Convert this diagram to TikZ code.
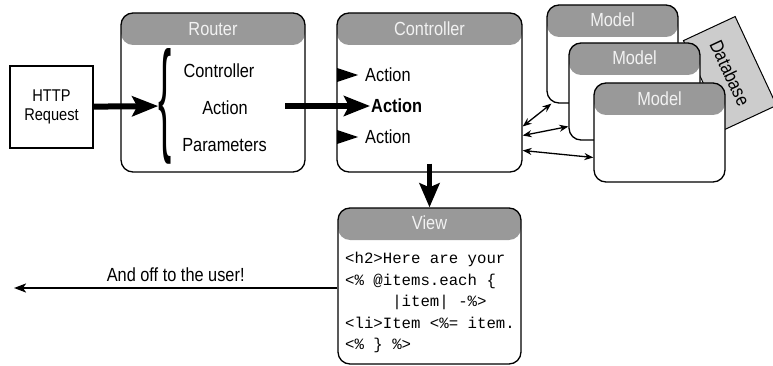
\documentclass[tikz,border=0pt]{standalone}
\usepackage{fontspec}
\setmainfont{Liberation Sans}[FakeStretch=0.86]
\setmonofont{Liberation Mono}
\usetikzlibrary{arrows.meta}
\definecolor{headgray}{HTML}{999999}
\definecolor{dbgray}{HTML}{CCCCCC}
\definecolor{headtext}{HTML}{F2F2F2}
\tikzset{
  txt/.style={font=\fontsize{19}{22}\selectfont, inner sep=1pt},
  boldtxt/.style={font=\fontsize{19}{22}\selectfont\bfseries, inner sep=1pt},
  panel/.style={draw, line width=1.3pt, rounded corners=12pt, fill=white, inner sep=0pt,
    path picture={\fill[headgray] (path picture bounding box.north west)
      rectangle ([yshift=-32pt]path picture bounding box.north east);}},
  headtitle/.style={txt, text=headtext},
  bigarrow/.style={line width=6pt, -{Stealth[length=26pt,width=20pt,inset=5pt]}},
  downarrow/.style={line width=5pt, -{Stealth[length=24pt,width=20pt,inset=4pt]}},
  twoway/.style={line width=1.3pt, {Stealth[length=9pt,width=7pt]}-{Stealth[length=9pt,width=7pt]}},
  userarrow/.style={line width=2pt, -{Stealth[length=12pt,width=9pt,inset=3pt]}},
}
\begin{document}
\begin{tikzpicture}[x=1pt,y=-1pt]
\useasboundingbox (0,0) rectangle (773,366);
\node[draw, line width=1.3pt, minimum width=83pt, minimum height=82pt, align=center,
  font=\fontsize{17}{19}\selectfont] (http) at (51.5,107) {HTTP\\Request};
\node[panel, minimum width=184pt, minimum height=159pt] (router) at (213,92.5) {};
\node[headtitle] (routert) at (213,29) {Router};
\node[txt] (rctrl) at (219,71) {Controller};
\node[txt] (ract) at (225,108) {Action};
\node[txt] (rparam) at (224.5,145) {Parameters};
\node[inner sep=0pt] (brace) at (165,106) {\scalebox{1}[2.7]{\fontsize{46}{46}\selectfont\{}};
\node[panel, minimum width=185pt, minimum height=159pt] (ctrl) at (429.5,92.5) {};
\node[headtitle] (ctrlt) at (429.5,29) {Controller};
\node[txt, anchor=west] (act1) at (364,75) {Action};
\node[boldtxt, anchor=west] (act2) at (370,106) {Action};
\node[txt, anchor=west] (act3) at (364,137) {Action};
\fill (337,68) -- (358,75) -- (337,82) -- cycle;
\fill (337,130) -- (358,137) -- (337,144) -- cycle;
\node[draw, line width=1pt, fill=dbgray, rotate=-65, minimum width=98pt, minimum height=57pt, txt] (db) at (730,73) {Database};
\node[panel, minimum width=131pt, minimum height=98pt] (model1) at (612.5,54) {};
\node[headtitle] (model1t) at (612.5,20) {Model};
\node[panel, minimum width=131pt, minimum height=97pt] (model2) at (634.5,91.5) {};
\node[headtitle] (model2t) at (634.5,58) {Model};
\node[panel, minimum width=131pt, minimum height=99pt] (model3) at (659.5,132.5) {};
\node[headtitle] (model3t) at (659.5,99) {Model};
\node[panel, minimum width=183pt, minimum height=156pt] (view) at (429.5,286) {};
\node[headtitle] (viewt) at (429.5,223) {View};
\node[anchor=north west, align=left, inner sep=0pt,
  font=\ttfamily\fontsize{15.7}{21.5}\selectfont] (code) at (345,252) {<h2>Here are your\\
<\% @items.each \{\\
\phantom{00000}|item| -\%>\\
<li>Item <\%= item.\\
<\% \} \%>};
\coordinate (rout) at (285,106);
\coordinate (user) at (14,288);
\draw[bigarrow] (http) -- (brace);
\draw[bigarrow] (rout) -- (act2.west);
\draw[downarrow] ([yshift=9pt]ctrl.south) -- (view.north);
\draw[twoway] ([yshift=-34pt]ctrl.east) -- ([xshift=5pt]model1.south west);
\draw[twoway] ([yshift=-43pt]ctrl.east) -- ([yshift=-35pt]model2.west);
\draw[twoway] ([yshift=-58pt]ctrl.east) -- ([yshift=-25pt]model3.west);
\draw[userarrow] ([yshift=-2pt]view.west) -- (user) node[txt, midway, above=4pt] (offlbl) {And off to the user!};
\end{tikzpicture}
\end{document}
